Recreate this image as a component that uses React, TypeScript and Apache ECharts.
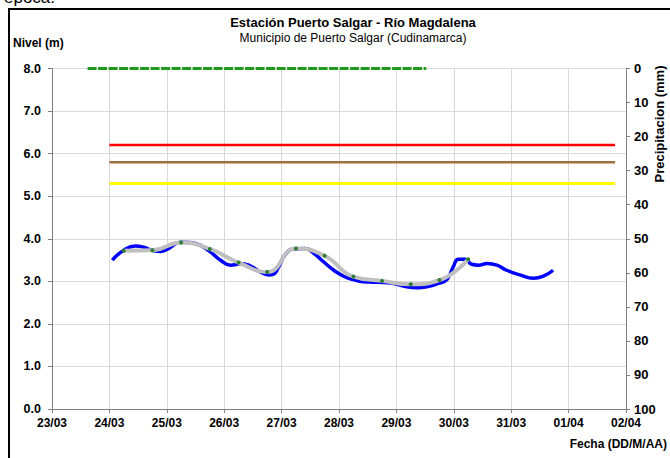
import React, { useEffect, useRef } from "react";
import * as echarts from "echarts";

const dateLabels = ["23/03", "24/03", "25/03", "26/03", "27/03", "28/03", "29/03", "30/03", "31/03", "01/04", "02/04"];

// Observed level (days since 23/03, metres)
const blueDays = [1.05, 1.25, 1.45, 1.6, 1.74, 1.89, 2.03, 2.24, 2.41, 2.58, 2.76, 2.93, 3.11, 3.22, 3.28, 3.46, 3.63, 3.77, 3.86, 3.95, 4.06, 4.21, 4.41, 4.56, 4.73, 4.91, 5.08, 5.25, 5.43, 5.6, 5.78, 5.95, 6.18, 6.36, 6.53, 6.73, 6.88, 6.99, 7.08, 7.2, 7.31, 7.43, 7.58, 7.75, 7.92, 8.15, 8.39, 8.56, 8.73];
const blueLevels = [3.5, 3.73, 3.83, 3.8, 3.73, 3.7, 3.77, 3.92, 3.91, 3.85, 3.69, 3.5, 3.38, 3.4, 3.42, 3.36, 3.22, 3.15, 3.17, 3.34, 3.62, 3.76, 3.77, 3.66, 3.46, 3.26, 3.12, 3.04, 2.99, 2.98, 2.97, 2.95, 2.87, 2.85, 2.87, 2.95, 3.04, 3.34, 3.52, 3.52, 3.4, 3.38, 3.42, 3.38, 3.26, 3.15, 3.07, 3.12, 3.26];

// Smoothed level every 12 h
const grayDays = [1.25, 1.75, 2.25, 2.75, 3.25, 3.75, 4.25, 4.75, 5.25, 5.75, 6.25, 6.75, 7.25];
const grayLevels = [3.72, 3.73, 3.91, 3.76, 3.44, 3.22, 3.77, 3.6, 3.11, 3.01, 2.93, 3.03, 3.52];

// Alert thresholds (m)
const thresholdStart = 1.0;
const thresholdEnd = 9.81;
const redLevel = 6.2;
const brownLevel = 5.8;
const yellowLevel = 5.3;

// Precipitation (mm)
const precipDays = [0.62, 6.52];
const precipMm = [0, 0];

const levelTicks = { min: 0, max: 8, interval: 1 };
const precipTicks = { min: 0, max: 100, interval: 10 };

const FONT = "Liberation Sans";

export default function App() {
  const ref = useRef<HTMLDivElement>(null);
  useEffect(() => {
    if (!ref.current) return;
    const chart = echarts.init(ref.current, null, { renderer: "svg" });
    const pairs = (xs: number[], ys: number[]) => xs.map((x, i) => [x, ys[i]]);
    const hLine = (lvl: number) => [[thresholdStart, lvl], [thresholdEnd, lvl]];
    chart.setOption({
      animation: false,
      backgroundColor: "#ffffff",
      grid: { left: 52, right: 44, top: 68.5, bottom: 49, containLabel: false },
      xAxis: {
        type: "value",
        min: 0,
        max: 10,
        interval: 1,
        axisLine: { lineStyle: { color: "#808080", width: 1 } },
        axisTick: { show: true, length: 4, lineStyle: { color: "#808080" } },
        axisLabel: {
          formatter: (v: number) => dateLabels[Math.round(v)] ?? "",
          fontFamily: FONT,
          fontWeight: "bold",
          fontSize: 12,
          color: "#000",
          margin: 8,
        },
        splitLine: { show: true, lineStyle: { color: "#d9d9d9", width: 1 } },
      },
      yAxis: [
        {
          type: "value",
          ...levelTicks,
          axisLine: { show: true, lineStyle: { color: "#808080" } },
          axisTick: { show: true, length: 4, lineStyle: { color: "#808080" } },
          axisLabel: {
            formatter: (v: number) => v.toFixed(1),
            fontFamily: FONT,
            fontWeight: "bold",
            fontSize: 12.5,
            color: "#000",
            margin: 11,
          },
          splitLine: { show: true, lineStyle: { color: "#d9d9d9", width: 1 } },
        },
        {
          type: "value",
          ...precipTicks,
          inverse: true,
          position: "right",
          alignTicks: false,
          axisLine: { show: true, lineStyle: { color: "#808080" } },
          axisTick: { show: true, length: 4, lineStyle: { color: "#808080" } },
          axisLabel: {
            fontFamily: FONT,
            fontWeight: "bold",
            fontSize: 13,
            color: "#000",
            margin: 8,
          },
          splitLine: { show: false },
        },
      ],
      series: [
        {
          type: "line",
          data: pairs(precipDays, precipMm),
          yAxisIndex: 1,
          symbol: "none",
          lineStyle: { color: "#1e9a1e", width: 3, type: [9, 1.5] },
          z: 3,
        },
        { type: "line", data: hLine(redLevel), symbol: "none", lineStyle: { color: "#ff0000", width: 2.5 } },
        { type: "line", data: hLine(brownLevel), symbol: "none", lineStyle: { color: "#a0703c", width: 2.5 } },
        { type: "line", data: hLine(yellowLevel), symbol: "none", lineStyle: { color: "#ffff00", width: 3 } },
        {
          type: "line",
          data: pairs(blueDays, blueLevels),
          symbol: "none",
          smooth: 0.5,
          lineStyle: { color: "#0000ff", width: 3.5 },
          z: 4,
        },
        {
          type: "line",
          data: pairs(grayDays, grayLevels),
          smooth: 0.5,
          symbol: "circle",
          symbolSize: 4,
          showSymbol: true,
          itemStyle: { color: "#2e7d32", borderWidth: 0 },
          lineStyle: { color: "#bfbfbf", width: 4 },
          z: 5,
        },
      ],
      graphic: [
        { type: "text", left: 4, top: -11, style: { text: "época.", font: `17px ${FONT}`, fill: "#000" } },
        {
          type: "rect",
          shape: { x: 9, y: 9, width: 700, height: 500 },
          style: { fill: "none", stroke: "#000", lineWidth: 2 },
          silent: true,
        },
        {
          type: "text",
          x: 353,
          y: 22,
          style: { text: "Estación Puerto Salgar - Río Magdalena", font: `bold 13px ${FONT}`, fill: "#000", align: "center", verticalAlign: "middle" },
        },
        {
          type: "text",
          x: 353,
          y: 38,
          style: { text: "Municipio de Puerto Salgar (Cudinamarca)", font: `12px ${FONT}`, fill: "#000", align: "center", verticalAlign: "middle" },
        },
        {
          type: "text",
          x: 13,
          y: 43,
          style: { text: "Nivel (m)", font: `bold 12px ${FONT}`, fill: "#000", align: "left", verticalAlign: "middle" },
        },
        {
          type: "text",
          x: 667,
          y: 444,
          style: { text: "Fecha (DD/M/AA)", font: `bold 12px ${FONT}`, fill: "#000", align: "right", verticalAlign: "middle" },
        },
        {
          type: "text",
          x: 659,
          y: 124,
          rotation: Math.PI / 2,
          style: { text: "Precipitacion (mm)", font: `bold 13px ${FONT}`, fill: "#000", align: "center", verticalAlign: "middle" },
        },
      ],
    });
    return () => chart.dispose();
  }, []);
  return (
    <div style={{ position: "fixed", left: 0, top: 0, width: 670, height: 458, background: "#fff" }}>
      <div ref={ref} style={{ width: 670, height: 458 }} />
    </div>
  );
}
